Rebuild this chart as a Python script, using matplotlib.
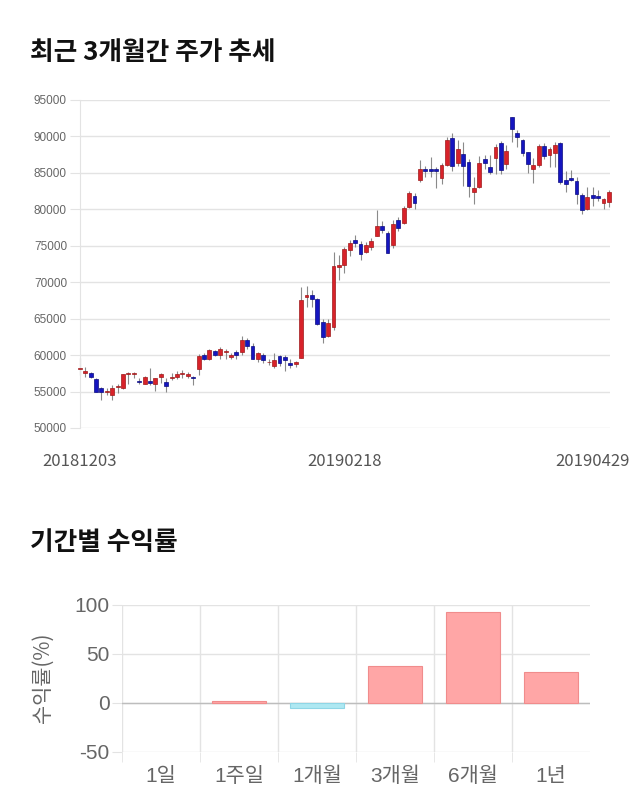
import numpy as np
import matplotlib
matplotlib.use("Agg")
import matplotlib.pyplot as plt

plt.rcParams['font.family'] = ['Liberation Sans', 'Noto Sans CJK KR', 'DejaVu Sans']
plt.rcParams['axes.unicode_minus'] = False

# ---- candle data (20181203 .. 20190429, 99 trading days) ----
opens = [58150, 57500, 57500, 56700, 55450, 54900, 54550, 55600, 55450, 57400,
         57400, 56500, 56050, 56500, 56000, 56950, 56300, 56800, 57000, 57400,
         57150, 57000, 58050, 60000, 59400, 60600, 59950, 60450, 59700, 60400,
         60450, 62050, 61240, 59500, 60000, 59000, 58500, 59850, 59770, 58850,
         58750, 59550, 67940, 68260, 67660, 64500, 62600, 63800, 72030, 72400,
         74400, 75800, 75300, 74200, 74800, 76400, 77700, 76750, 75100, 78600,
         78100, 80370, 81830, 84020, 85600, 85480, 85480, 84300, 86030, 89800,
         86400, 87600, 86530, 82420, 83100, 86900, 85850, 87000, 89140, 86200,
         92600, 90500, 89460, 87800, 85580, 86030, 88640, 87450, 87680, 89050,
         84020, 84300, 83930, 81960, 80000, 82000, 81780, 80900, 81050]
highs = [59600, 58400, 57650, 56800, 55600, 55500, 55900, 56000, 57450, 57650,
         57700, 56800, 57100, 58200, 56900, 57600, 56900, 57500, 57800, 58000,
         57750, 57100, 60200, 60300, 60900, 60700, 61100, 60800, 60300, 60700,
         62600, 62300, 61600, 60450, 60230, 59500, 60230, 60000, 60000, 59400,
         59200, 69400, 69500, 68900, 67800, 65000, 65000, 74100, 73800, 74900,
         75800, 76500, 75600, 75500, 76000, 79950, 78400, 77000, 78600, 79000,
         80400, 82500, 82200, 86760, 85900, 87200, 85800, 86400, 89900, 90500,
         89500, 89300, 86850, 84480, 87300, 87400, 87400, 88950, 89400, 88800,
         92700, 90950, 89700, 87900, 87100, 88950, 89100, 88600, 89300, 89250,
         85300, 85400, 84500, 82200, 83000, 83000, 82600, 81500, 82650]
lows = [57300, 57050, 56850, 54900, 53860, 54500, 53860, 54800, 55400, 56100,
        56800, 56000, 56000, 55900, 55100, 56200, 54900, 56600, 56700, 56800,
        56800, 55900, 57300, 59300, 59300, 59900, 59400, 59400, 59500, 59400,
        60000, 60900, 59500, 59100, 58850, 58600, 58300, 58500, 57850, 58300,
        58400, 59550, 66650, 66650, 64100, 61700, 62500, 63500, 70300, 71300,
        73600, 74800, 73100, 74000, 74400, 76300, 76700, 74000, 74700, 77000,
        78000, 80250, 80000, 83800, 84400, 84400, 82900, 83500, 85940, 85300,
        85940, 83200, 81650, 80800, 82870, 85500, 84850, 84800, 84800, 85500,
        89230, 88500, 87300, 85000, 83560, 85800, 86900, 85800, 85800, 83450,
        82400, 83930, 80800, 79360, 79900, 80450, 81200, 80000, 80300]
closes = [58250, 57860, 56950, 55000, 55000, 55100, 55500, 55800, 57360, 57600,
          57400, 56300, 57050, 56150, 56800, 57400, 55700, 57050, 57400, 57400,
          57400, 56800, 59850, 59400, 60700, 59950, 60870, 60450, 59950, 59950,
          62050, 61300, 59500, 60230, 59300, 59100, 59300, 58850, 59300, 58650,
          59100, 67570, 68260, 67660, 64220, 62500, 64450, 72160, 72300, 74550,
          75400, 75380, 73900, 75150, 75650, 77750, 77100, 74000, 78000, 77450,
          80150, 82200, 80900, 85600, 85300, 85300, 85200, 86030, 89500, 85940,
          88300, 85940, 83200, 82970, 86300, 86300, 85100, 88500, 85400, 88000,
          91000, 89960, 87770, 86200, 86120, 88680, 87300, 88270, 88820, 83700,
          83470, 84020, 82060, 79900, 81650, 81550, 81500, 81400, 82380]
date_labels = ['20181203', '20190218', '20190429']
date_pos = [0, 49, 98]

# ---- period returns ----
periods = ['1일', '1주일', '1개월', '3개월', '6개월', '1년']
returns = [0.0, 2.0, -5.5, 38.0, 93.0, 31.5]

fig = plt.figure(figsize=(6.4, 8.1), dpi=100)
W, H = 640.0, 810.0

def box(l, t, r, b):
    return [l / W, 1 - b / H, (r - l) / W, (b - t) / H]

grid_c = '#e3e3e3'
txt_c = '#666666'
kr = ['Noto Sans CJK KR', 'DejaVu Sans']

# ---------------- candlestick chart ----------------
fig.text(30 / W, 1 - 52 / H, '최근 3개월간 주가 추세', fontsize=18.5, fontweight='bold',
         family=kr, va='center', ha='left', color='#111111')

ax = fig.add_axes(box(79.5, 100, 610, 428))
o = np.array(opens); c = np.array(closes)
hi = np.array(highs); lo = np.array(lows)
x = np.arange(len(o))
up = c >= o
body_c = np.where(up, '#d8222a', '#1515c0')
edge_c = np.where(up, '#9e1a1a', '#0b0b80')
ax.vlines(x, lo, hi, color='#8a8a8a', lw=0.8, zorder=2, clip_on=False)
ax.bar(x, np.maximum(np.abs(c - o), 90), bottom=np.minimum(o, c), width=0.72,
       color=body_c, edgecolor=edge_c, linewidth=0.5, zorder=3, clip_on=False)

ax.set_xlim(-0.05, 98.2)
ax.set_ylim(50000, 95000)
ax.set_yticks(np.arange(50000, 95001, 5000))
ax.set_yticklabels([str(v) for v in range(50000, 95001, 5000)])
ax.grid(axis='y', color=grid_c, lw=1)
ax.set_axisbelow(True)
ax.tick_params(axis='y', length=7, color=grid_c, labelsize=8.5, labelcolor=txt_c, pad=2)
ax.set_xticks([])
for s in ['top', 'right', 'bottom']:
    ax.spines[s].set_visible(False)
ax.spines['left'].set_color(grid_c)

for lab, p, ha, dx in zip(date_labels, date_pos, ['center', 'center', 'right'], [0, 0, 21]):
    ax.annotate(lab, xy=(p, 0), xycoords=('data', 'axes fraction'),
                xytext=(dx * 0.72, -34 * 0.72), textcoords='offset points',
                ha=ha, va='center', fontsize=12, color='#555555', family=kr)

# ---------------- returns bar chart ----------------
fig.text(30 / W, 1 - 543 / H, '기간별 수익률', fontsize=18.5, fontweight='bold',
         family=kr, va='center', ha='left', color='#111111')

bx = fig.add_axes(box(122, 605, 590, 751.7))
r = np.array(returns)
bx.bar(np.arange(len(r)), r, width=0.69,
       color=np.where(r >= 0, '#ffa6a6', '#aee8f2'),
       edgecolor=np.where(r >= 0, '#f08c8c', '#8fd6e6'),
       linewidth=np.where(r != 0, 0.8, 0.0), zorder=3)
bx.set_xlim(-0.5, len(r) - 0.5)
bx.set_ylim(-50, 100)
bx.set_yticks([-50, 0, 50, 100])
bx.grid(axis='y', color=grid_c, lw=1)
bx.axhline(0, color='#bdbdbd', lw=1, zorder=2)
bx.set_xticks(np.arange(len(r)))
bx.set_xticklabels(periods)
bx.set_xticks(np.arange(len(r)) - 0.5, minor=True)
bx.grid(axis='x', which='minor', color=grid_c, lw=1)
bx.grid(axis='x', which='major', visible=False)
bx.set_axisbelow(True)
bx.tick_params(axis='x', which='major', length=0, labelsize=15, labelcolor=txt_c, pad=11)
bx.tick_params(axis='x', which='minor', length=7, color=grid_c)
bx.tick_params(axis='y', length=7, color=grid_c, labelsize=15, labelcolor=txt_c, pad=2)
for s in ['top', 'right', 'bottom', 'left']:
    bx.spines[s].set_visible(False)

fig.text(43 / W, 1 - 678 / H, '수익률(%)', rotation=90, fontsize=15, color=txt_c,
         ha='center', va='center', family=kr)

fig.savefig('out.png', dpi=100, facecolor='white')
